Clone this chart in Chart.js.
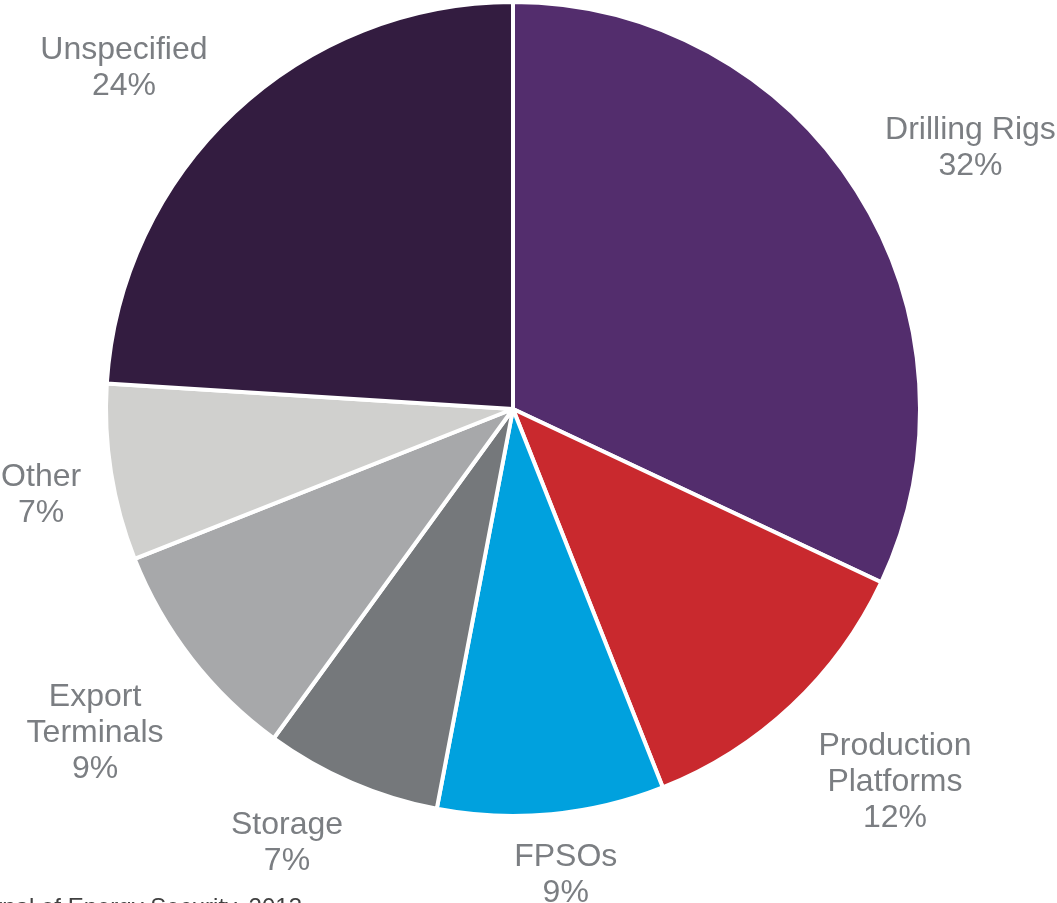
<!DOCTYPE html>
<html>
<head>
<meta charset="utf-8">
<script src="https://cdn.jsdelivr.net/npm/chart.js@4.4.1/dist/chart.umd.min.js"></script>
<style>
  html, body { margin: 0; padding: 0; background: #ffffff; }
  #wrap { position: relative; width: 1057px; height: 903px; overflow: hidden; }
</style>
</head>
<body>
<div id="wrap"><canvas id="pieChart" width="1057" height="903"></canvas></div>
<script>
// Offshore attack targets by facility type (share, %)
const categories = ['Drilling Rigs', 'Production Platforms', 'FPSOs', 'Storage', 'Export Terminals', 'Other', 'Unspecified'];
const shares = [32, 12, 9, 7, 9, 7, 24];
// label lines as they are broken on the chart
const labelLines = [
  ['Drilling Rigs'],
  ['Production', 'Platforms'],
  ['FPSOs'],
  ['Storage'],
  ['Export', 'Terminals'],
  ['Other'],
  ['Unspecified']
];
const sliceColors = ['#532d6d', '#c9292e', '#00a1de', '#75787b', '#a7a8aa', '#d0d0ce', '#331c40'];
const sourceNote = 'Source: Journal of Energy Security, 2013';

const labelFont = '32px "Liberation Sans", Arial, sans-serif';
const labelColor = '#7b7e82';
const lineHeight = 36;

// Labels sit outside each slice, pushed away along the slice's middle angle
const outsideLabels = {
  id: 'outsideLabels',
  afterDraw(chart) {
    const ctx = chart.ctx;
    const meta = chart.getDatasetMeta(0);
    ctx.save();
    ctx.font = labelFont;
    ctx.fillStyle = labelColor;
    ctx.textAlign = 'center';
    ctx.textBaseline = 'middle';
    meta.data.forEach((arc, i) => {
      const lines = labelLines[i].concat([shares[i] + '%']);
      const mid = (arc.startAngle + arc.endAngle) / 2;
      const dx = Math.cos(mid), dy = Math.sin(mid);
      const gap = 10;
      const ax = arc.x + (arc.outerRadius + gap) * dx;
      const ay = arc.y + (arc.outerRadius + gap) * dy;
      const w = Math.max(...lines.map(t => ctx.measureText(t).width));
      const h = lines.length * lineHeight;
      const sx = Math.max(-1, Math.min(1, dx * 2));
      const sy = Math.max(-1, Math.min(1, dy * 2));
      const cx = ax + sx * (w / 2 + 20);
      const cy = ay + sy * (h / 2 + 8) + 7;
      lines.forEach((t, k) => {
        ctx.fillText(t, cx, cy - h / 2 + lineHeight / 2 + k * lineHeight);
      });
    });

    // source note in the lower left corner
    ctx.font = '24px "Liberation Sans", Arial, sans-serif';
    ctx.textAlign = 'right';
    ctx.textBaseline = 'alphabetic';
    ctx.fillStyle = '#404040';
    ctx.fillText(sourceNote, 302, 915);
    ctx.restore();
  }
};

new Chart(document.getElementById('pieChart'), {
  type: 'pie',
  data: {
    labels: categories,
    datasets: [{
      data: shares,
      backgroundColor: sliceColors,
      borderColor: '#ffffff',
      borderWidth: 4
    }]
  },
  options: {
    responsive: false,
    animation: false,
    layout: { padding: { left: 102, right: 133, top: 0, bottom: 85 } },
    plugins: {
      legend: { display: false },
      tooltip: { enabled: false }
    }
  },
  plugins: [outsideLabels]
});
</script>
</body>
</html>
